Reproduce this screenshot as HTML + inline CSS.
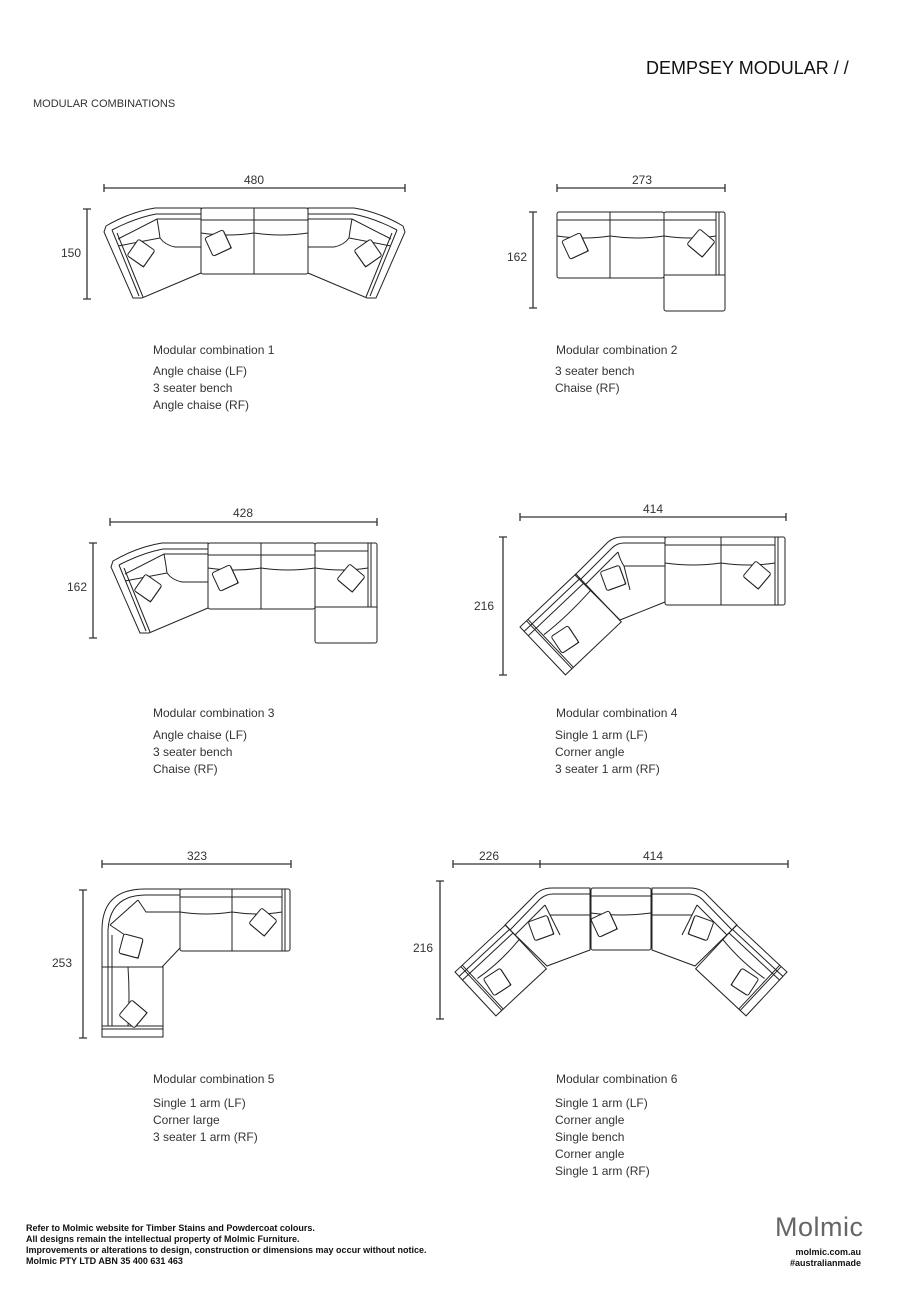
<!DOCTYPE html>
<html><head><meta charset="utf-8"><style>
html,body{margin:0;padding:0;background:#fff}
body{width:903px;height:1289px;position:relative;overflow:hidden;font-family:"Liberation Sans",sans-serif;color:#333}
.t{position:absolute;white-space:nowrap}
.cap{font-size:12px;line-height:17px;color:#333}
.foot{font-size:9px;font-weight:bold;line-height:11px;color:#111}
</style></head><body>
<svg width="903" height="1289" style="position:absolute;left:0;top:0" fill="none" stroke="#222" stroke-width="1">
<defs>
<g id="pil"><rect x="-10" y="-10" width="20" height="20" rx="2" fill="#fff"/><path d="M-8 10 L10 10 L10 -8"/></g>
</defs>
<g stroke="#333" stroke-width="1.3">
<path d="M104 188H405M104 184v8M405 184v8M87 209V299M83 209h8M83 299h8"/>
<path d="M557 188H725M557 184v8M725 184v8M533 212V308M529 212h8M529 308h8"/>
<path d="M110 522H377M110 518v8M377 518v8M93 543V638M89 543h8M89 638h8"/>
<path d="M520 517H786M520 513v8M786 513v8M503 537V675M499 537h8M499 675h8"/>
<path d="M102 864H291M102 860v8M291 860v8M83 890V1038M79 890h8M79 1038h8"/>
<path d="M453 864H788M453 860v8M540 860v8M788 860v8M440 881V1019M436 881h8M436 1019h8"/>
</g>
<!-- Combo 1 -->
<g>
<path d="M201 208H155Q130 212 106 226L104 232L133 298H142L201 273Z"/>
<path d="M201 214H156Q135 218 112 230M201 219H157L118 239M157 219Q159 230 160 238L118 246M112 230L139 296M117 233L143 297"/>
<path d="M160 238Q165 245 175 247H201"/>
<rect x="201" y="208" width="107" height="66" rx="2"/>
<path d="M254 208V274M201 220H308M201 233Q228 237 254 233Q281 237 308 233"/>
<use href="#pil" transform="translate(141 253) rotate(35)"/>
<use href="#pil" transform="translate(218 243) rotate(-25)"/>
</g>
<g transform="translate(509 0) scale(-1 1)">
<path d="M201 208H155Q130 212 106 226L104 232L133 298H142L201 273Z"/>
<path d="M201 214H156Q135 218 112 230M201 219H157L118 239M157 219Q159 230 160 238L118 246M112 230L139 296M117 233L143 297"/>
<path d="M160 238Q165 245 175 247H201"/>
<use href="#pil" transform="translate(141 253) rotate(35)"/>
</g>
<!-- Combo 2 -->
<rect x="557" y="212" width="107" height="66" rx="2"/>
<path d="M610 212V278M557 220H664M557 236Q584 240 610 236Q637 240 664 236"/>
<use href="#pil" transform="translate(575 246) rotate(-25)"/>
<rect x="664" y="212" width="61" height="99" rx="2"/>
<path d="M716 212V275M719 212V275M664 220H716M664 236Q690 240 716 236M664 275H725"/>
<use href="#pil" transform="translate(701 243) rotate(40)"/>
<!-- Combo 3 -->
<g transform="translate(7 335)">
<path d="M201 208H155Q130 212 106 226L104 232L133 298H142L201 273Z"/>
<path d="M201 214H156Q135 218 112 230M201 219H157L118 239M157 219Q159 230 160 238L118 246M112 230L139 296M117 233L143 297"/>
<path d="M160 238Q165 245 175 247H201"/>
<rect x="201" y="208" width="107" height="66" rx="2"/>
<path d="M254 208V274M201 220H308M201 233Q228 237 254 233Q281 237 308 233"/>
<use href="#pil" transform="translate(141 253) rotate(35)"/>
<use href="#pil" transform="translate(218 243) rotate(-25)"/>
<rect x="308" y="208" width="62" height="100" rx="2"/>
<path d="M361 208V272M364 208V272M308 216H361M308 233Q335 237 361 233M308 272H370"/>
<use href="#pil" transform="translate(344 243) rotate(40)"/>
</g>
<!-- Combo 4 -->
<path d="M575 575L608 542Q614 537 622 537H665V602L620 620Z"/>
<path d="M580 580L612 548Q617 543 624 543H665M585 585L618 552M618 552Q620 560 624 566H665M624 566L630 590"/>
<use href="#pil" transform="translate(613 578) rotate(-20)"/>
<g transform="translate(520 627) rotate(-43.5)">
<rect x="0" y="0" width="77" height="66"/>
<path d="M0 6H77M0 12H77M9 0V66M11 0V66M12 22Q40 25 77 22"/>
<use href="#pil" transform="translate(24 40) rotate(10)"/>
</g>
<rect x="665" y="537" width="120" height="68" rx="2"/>
<path d="M721 537V605M775 537V605M778 537V605M665 545H775M665 563Q693 567 721 563Q748 567 775 563"/>
<use href="#pil" transform="translate(757 575) rotate(40)"/>
<!-- Combo 5 -->
<rect x="180" y="889" width="110" height="62" rx="2"/>
<path d="M232 889V951M282 889V951M285 889V951M180 897H282M180 912Q206 916 232 912Q258 916 282 912"/>
<use href="#pil" transform="translate(263 922) rotate(40)"/>
<path d="M102 967V930Q102 889 145 889H180V948L162 967Z"/>
<path d="M108 967V930Q110 895 146 895H180M110 925L138 900M138 900L146 912H180M110 925L125 935M112 935V967"/>
<use href="#pil" transform="translate(131 946) rotate(15)"/>
<rect x="102" y="967" width="61" height="70"/>
<path d="M108 967V1026M112 967V1026M102 1026H163M102 1029H163M128 967Q130 995 128 1026"/>
<use href="#pil" transform="translate(133 1014) rotate(-50)"/>
<!-- Combo 6 -->
<g>
<path d="M505 925L537 893Q543 888 552 888H590V950L547 966Z"/>
<path d="M510 930L540 899Q546 894 553 894H590M515 935L545 905M545 905L550 915H590M550 915L560 935"/>
<use href="#pil" transform="translate(541 928) rotate(-20)"/>
<g transform="translate(455 972) rotate(-43)">
<rect x="0" y="0" width="69" height="60"/>
<path d="M0 6H69M0 11H69M8 0V60M10 0V60M12 20Q40 24 69 20"/>
<use href="#pil" transform="translate(24 36) rotate(10)"/>
</g>
</g>
<g transform="translate(1242 0) scale(-1 1)">
<path d="M505 925L537 893Q543 888 552 888H590V950L547 966Z"/>
<path d="M510 930L540 899Q546 894 553 894H590M515 935L545 905M545 905L550 915H590M550 915L560 935"/>
<use href="#pil" transform="translate(541 928) rotate(-20)"/>
<g transform="translate(455 972) rotate(-43)">
<rect x="0" y="0" width="69" height="60"/>
<path d="M0 6H69M0 11H69M8 0V60M10 0V60M12 20Q40 24 69 20"/>
<use href="#pil" transform="translate(24 36) rotate(10)"/>
</g>
</g>
<rect x="591" y="888" width="60" height="62" rx="2"/>
<path d="M591 896H651M591 913Q621 917 651 913"/>
<use href="#pil" transform="translate(604 924) rotate(-25)"/>
</svg>

<div class="t" style="left:646px;top:58px;font-size:18px;color:#111">DEMPSEY MODULAR <span style="font-weight:300">/ /</span></div>
<div class="t" style="left:33px;top:98px;font-size:11px;color:#333">MODULAR COMBINATIONS</div>

<div class="t" style="left:244px;top:173px;font-size:12px">480</div>
<div class="t" style="left:61px;top:246px;font-size:12px">150</div>
<div class="t" style="left:632px;top:173px;font-size:12px">273</div>
<div class="t" style="left:507px;top:250px;font-size:12px">162</div>
<div class="t" style="left:233px;top:506px;font-size:12px">428</div>
<div class="t" style="left:67px;top:580px;font-size:12px">162</div>
<div class="t" style="left:643px;top:502px;font-size:12px">414</div>
<div class="t" style="left:474px;top:599px;font-size:12px">216</div>
<div class="t" style="left:187px;top:849px;font-size:12px">323</div>
<div class="t" style="left:52px;top:956px;font-size:12px">253</div>
<div class="t" style="left:479px;top:849px;font-size:12px">226</div>
<div class="t" style="left:643px;top:849px;font-size:12px">414</div>
<div class="t" style="left:413px;top:941px;font-size:12px">216</div>

<div class="t cap" style="left:153px;top:342px">Modular combination 1</div>
<div class="t cap" style="left:153px;top:363px">Angle chaise (LF)<br>3 seater bench<br>Angle chaise (RF)</div>
<div class="t cap" style="left:556px;top:342px">Modular combination 2</div>
<div class="t cap" style="left:555px;top:363px">3 seater bench<br>Chaise (RF)</div>
<div class="t cap" style="left:153px;top:705px">Modular combination 3</div>
<div class="t cap" style="left:153px;top:727px">Angle chaise (LF)<br>3 seater bench<br>Chaise (RF)</div>
<div class="t cap" style="left:556px;top:705px">Modular combination 4</div>
<div class="t cap" style="left:555px;top:727px">Single 1 arm (LF)<br>Corner angle<br>3 seater 1 arm (RF)</div>
<div class="t cap" style="left:153px;top:1071px">Modular combination 5</div>
<div class="t cap" style="left:153px;top:1095px">Single 1 arm (LF)<br>Corner large<br>3 seater 1 arm (RF)</div>
<div class="t cap" style="left:556px;top:1071px">Modular combination 6</div>
<div class="t cap" style="left:555px;top:1095px">Single 1 arm (LF)<br>Corner angle<br>Single bench<br>Corner angle<br>Single 1 arm (RF)</div>

<div class="t foot" style="left:26px;top:1223px">Refer to Molmic website for Timber Stains and Powdercoat colours.<br>All designs remain the intellectual property of Molmic Furniture.<br>Improvements or alterations to design, construction or dimensions may occur without notice.<br>Molmic PTY LTD ABN 35 400 631 463</div>
<div class="t" style="left:775px;top:1212px;font-size:27px;color:#666;letter-spacing:0.5px">Molmic</div>
<div class="t foot" style="right:42px;top:1247px;text-align:right">molmic.com.au<br>#australianmade</div>
</body></html>
